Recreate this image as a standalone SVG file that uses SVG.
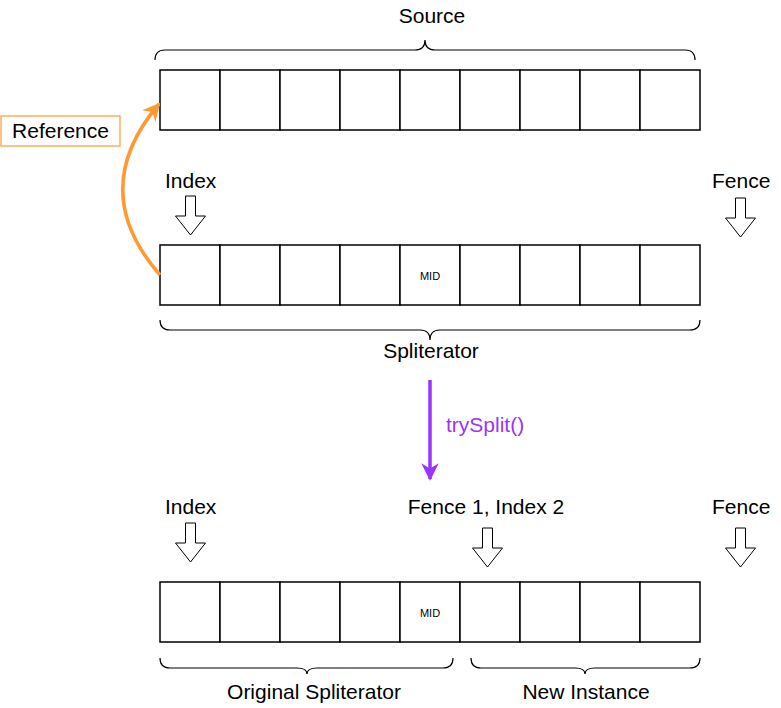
<svg xmlns="http://www.w3.org/2000/svg" width="781" height="708" viewBox="0 0 781 708">
<defs>
<style>
.cell{fill:#fff;stroke:#000;stroke-width:1.5}
.t{font-family:"Liberation Sans",Arial,sans-serif;font-size:21px;fill:#000}
.mid{font-family:"Liberation Sans",Arial,sans-serif;font-size:11px;fill:#000}
.brace{fill:none;stroke:#000;stroke-width:1.2}
.hol{fill:#fff;stroke:#000;stroke-width:1}
</style>
<marker id="ao" viewBox="0 0 10 10" refX="9" refY="5" markerWidth="5" markerHeight="5" orient="auto" markerUnits="strokeWidth"><path d="M0,0 L10,5 L0,10 L3,5 z" fill="#FF9933"/></marker>
<marker id="ap" viewBox="0 0 10 10" refX="9" refY="5" markerWidth="5" markerHeight="5" orient="auto" markerUnits="strokeWidth"><path d="M0,0 L10,5 L0,10 L3,5 z" fill="#9933FF"/></marker>
<g id="row">
<rect class="cell" x="0" y="0" width="60" height="60"/>
<rect class="cell" x="60" y="0" width="60" height="60"/>
<rect class="cell" x="120" y="0" width="60" height="60"/>
<rect class="cell" x="180" y="0" width="60" height="60"/>
<rect class="cell" x="240" y="0" width="60" height="60"/>
<rect class="cell" x="300" y="0" width="60" height="60"/>
<rect class="cell" x="360" y="0" width="60" height="60"/>
<rect class="cell" x="420" y="0" width="60" height="60"/>
<rect class="cell" x="480" y="0" width="60" height="60"/>
</g>
<path id="darr" class="hol" d="M-5,0 H5 V20 H15 L0,39 L-15,20 H-5 Z"/>
</defs>
<rect width="781" height="708" fill="#fff"/>

<g id="source">
<use href="#row" x="160" y="70"/>
<path class="brace" d="M155,60 Q155,50 165,50 H415 Q425,50 425,40 Q425,50 435,50 H685 Q695,50 695,60"/>
<text class="t" x="432" y="23" text-anchor="middle">Source</text>
</g>

<g id="spliterator">
<use href="#row" x="160" y="245"/>
<text class="mid" x="430" y="280" text-anchor="middle">MID</text>
<path class="brace" d="M160,320 Q160,330 170,330 H420 Q430,330 430,340 Q430,330 440,330 H690 Q700,330 700,320"/>
<text class="t" x="431" y="358" text-anchor="middle">Spliterator</text>
</g>

<g id="index-top">
<text class="t" x="165" y="188">Index</text>
<use href="#darr" x="190.5" y="196"/>
</g>
<g id="fence-top">
<text class="t" x="712" y="188">Fence</text>
<use href="#darr" x="740.5" y="198"/>
</g>

<g id="reference">
<rect x="1" y="116" width="119" height="30" fill="#fff" stroke="#FF9933" stroke-width="1.2"/>
<text class="t" x="60.5" y="138" text-anchor="middle">Reference</text>
</g>

<g id="split-result">
<use href="#row" x="160" y="582"/>
<text class="mid" x="430" y="617" text-anchor="middle">MID</text>
<path class="brace" d="M160,658 Q160,668 170,668 H297 Q307,668 307,674 Q307,668 317,668 H443 Q453,668 453,658"/>
<text class="t" x="314" y="699" text-anchor="middle">Original Spliterator</text>
<path class="brace" d="M471,658 Q471,668 481,668 H575 Q585,668 585,674 Q585,668 595,668 H690 Q700,668 700,658"/>
<text class="t" x="586" y="699" text-anchor="middle">New Instance</text>
</g>

<g id="index-bottom">
<text class="t" x="165" y="514">Index</text>
<use href="#darr" x="190.5" y="523"/>
</g>
<g id="fence1-index2">
<text class="t" x="486" y="514" text-anchor="middle">Fence 1, Index 2</text>
<use href="#darr" x="487.5" y="528"/>
</g>
<g id="fence-bottom">
<text class="t" x="712" y="514">Fence</text>
<use href="#darr" x="740.5" y="528"/>
</g>

<g id="connectors">
<path d="M160,275 Q86,190 159,104" fill="none" stroke="#FF9933" stroke-width="3.5" marker-end="url(#ao)"/>
<line x1="430" y1="380" x2="430" y2="479" stroke="#9933FF" stroke-width="3.5" marker-end="url(#ap)"/>
<text x="446" y="432" font-family="'Liberation Sans',Arial,sans-serif" font-size="21" fill="#9933FF">trySplit()</text>
</g>
</svg>
